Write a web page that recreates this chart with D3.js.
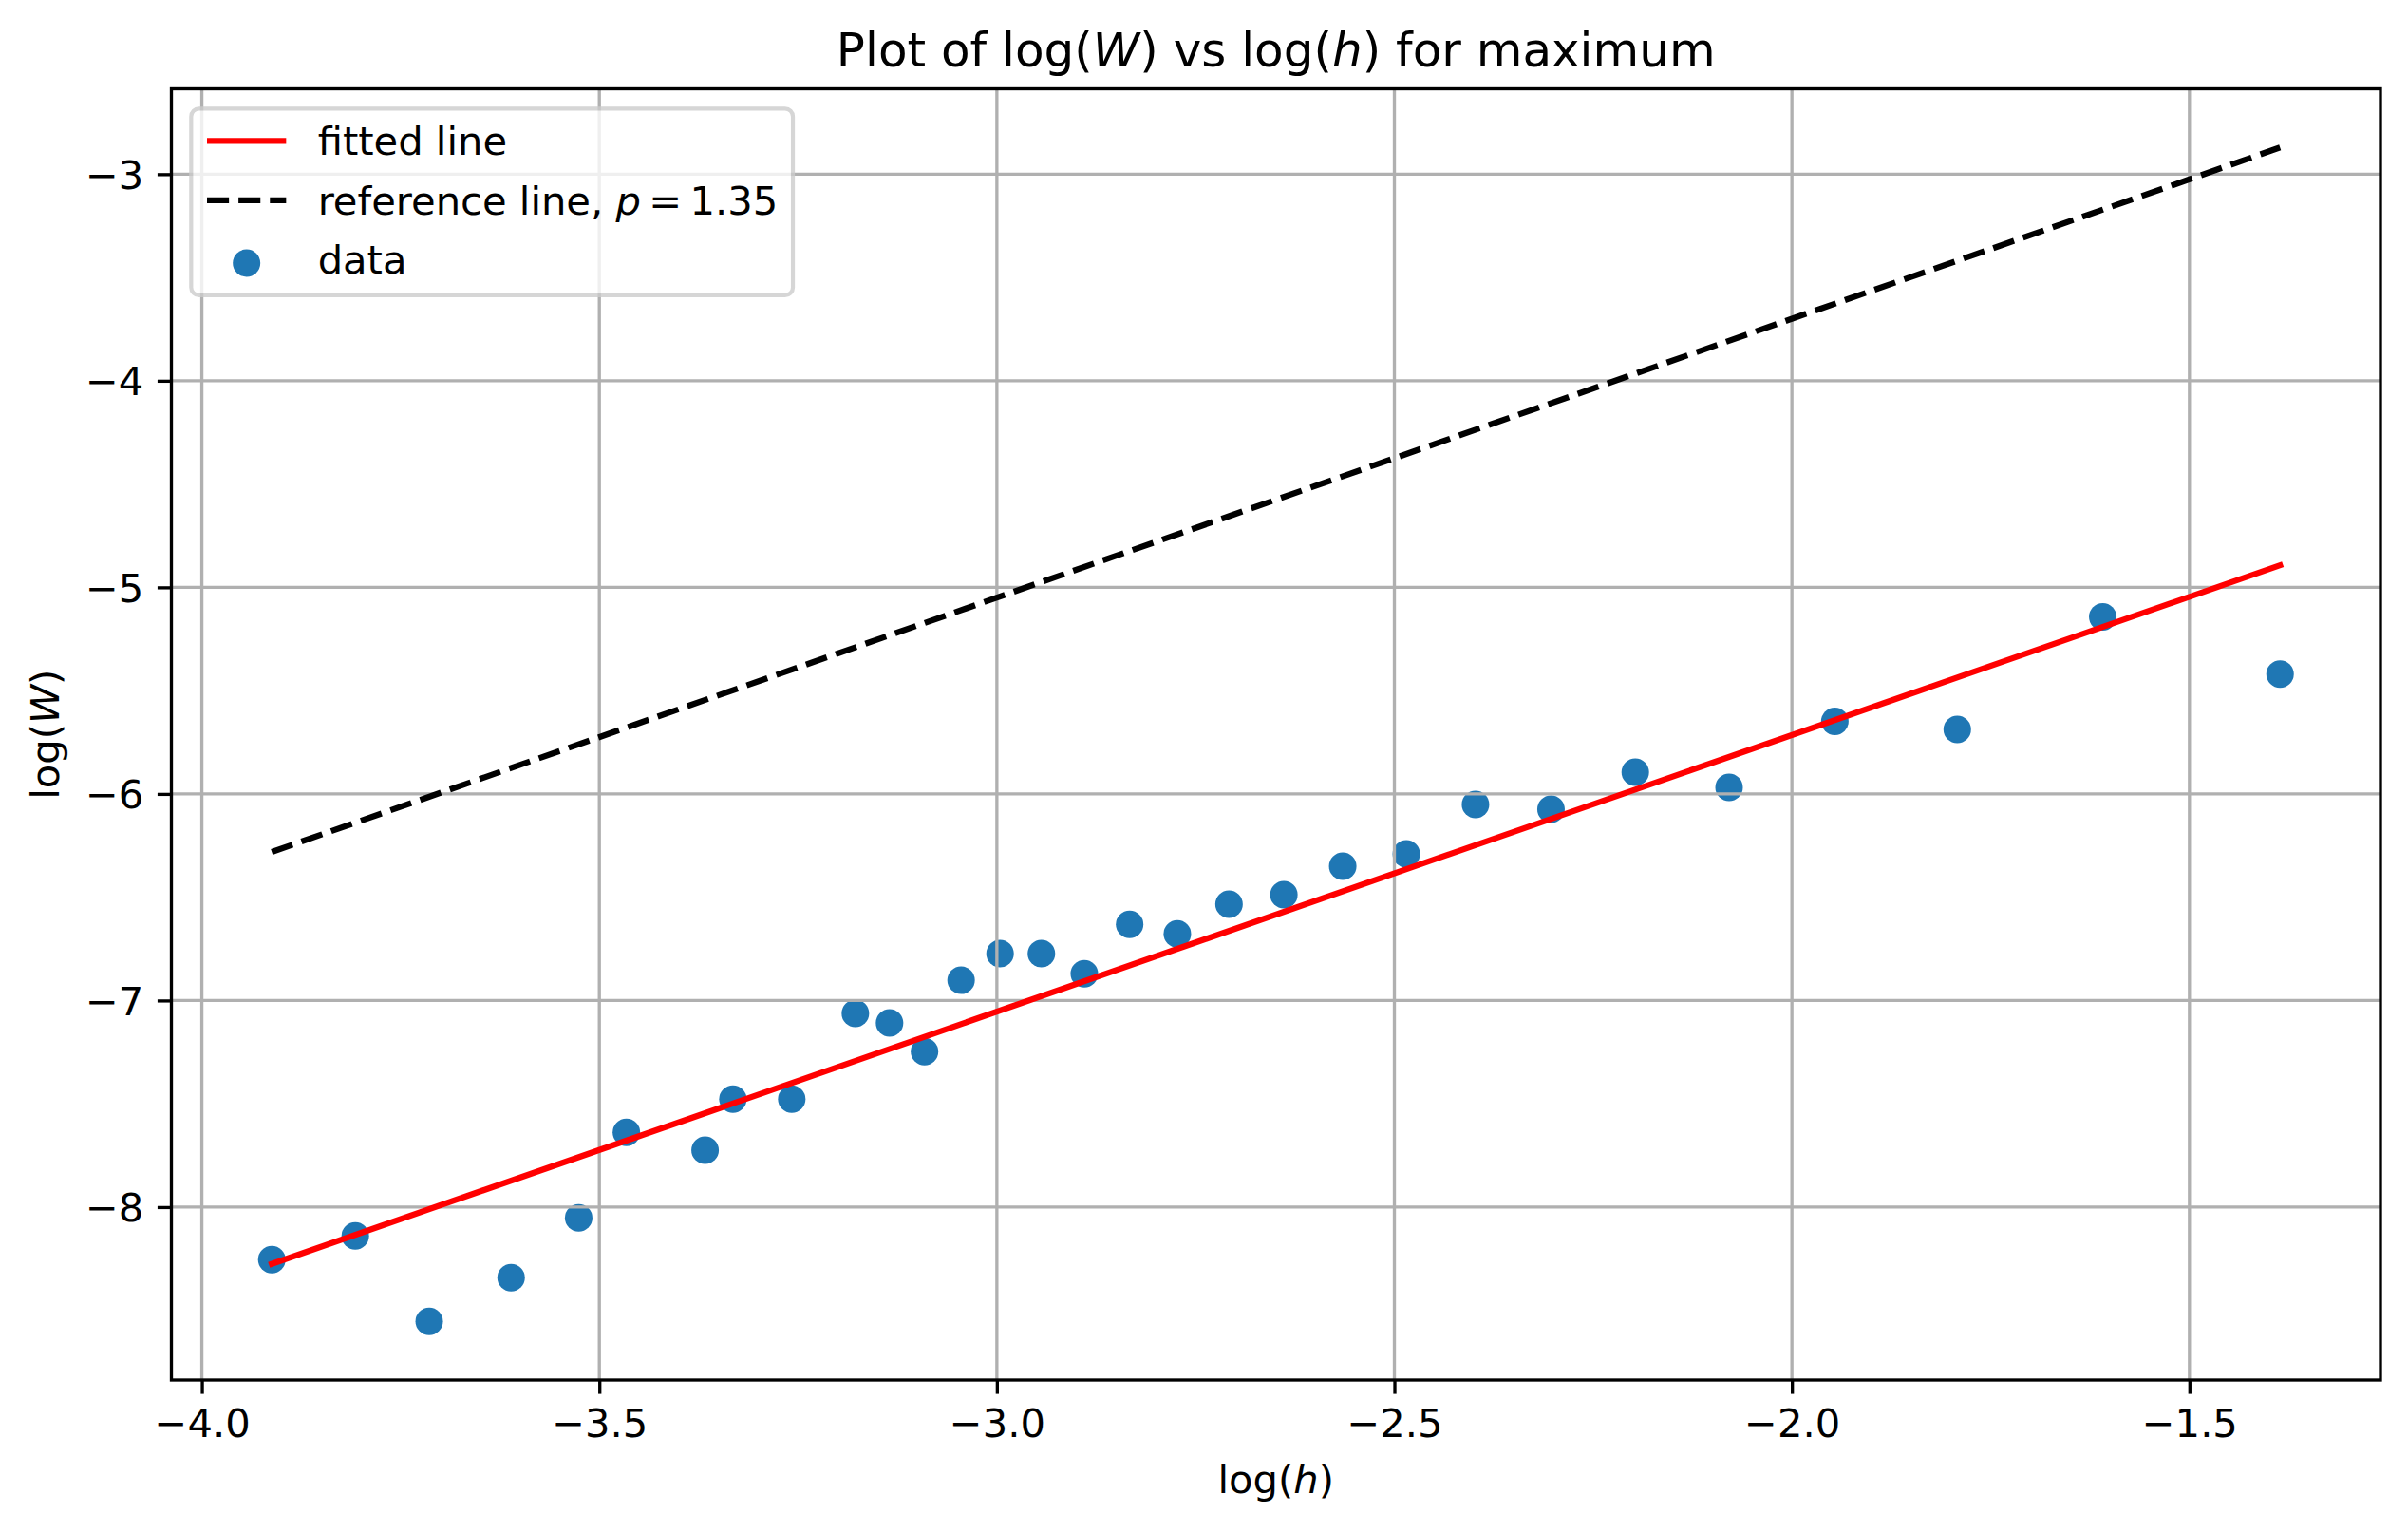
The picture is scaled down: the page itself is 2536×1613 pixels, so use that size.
<!DOCTYPE html>
<html>
<head>
<meta charset="utf-8">
<script src="https://cdn.jsdelivr.net/npm/d3@7"></script>
<style>
  body { margin: 0; background: #fff; }
  svg { display: block; font-family: 'DejaVu Sans', sans-serif; }
</style>
</head>
<body>
<svg id="chart" width="2536" height="1613"></svg>
<script>
// data
var logH = [-3.912, -3.807, -3.714, -3.611, -3.526, -3.466, -3.367, -3.332, -3.258, -3.178,
            -3.135, -3.091, -3.045, -2.996, -2.944, -2.890, -2.833, -2.773, -2.708, -2.639,
            -2.565, -2.485, -2.398, -2.303, -2.197, -2.079, -1.946, -1.792, -1.609, -1.386];
var logW = [-8.254, -8.139, -8.553, -8.342, -8.052, -7.638, -7.725, -7.477, -7.477, -7.063,
            -7.109, -7.247, -6.902, -6.773, -6.773, -6.870, -6.631, -6.677, -6.534, -6.488,
            -6.350, -6.290, -6.051, -6.074, -5.895, -5.968, -5.649, -5.688, -5.143, -5.420];
var fitX = [-3.912, -1.386];
var fitY = [-8.275, -4.893];
var refX = [-3.912, -1.386];
var refY = [-6.281, -2.871];
var xTicks = [-4.0, -3.5, -3.0, -2.5, -2.0, -1.5];
var xTickLabels = ['\u22124.0', '\u22123.5', '\u22123.0', '\u22122.5', '\u22122.0', '\u22121.5'];
var yTicks = [-8, -7, -6, -5, -4, -3];
var yTickLabels = ['\u22128', '\u22127', '\u22126', '\u22125', '\u22124', '\u22123'];

(function () {
  'use strict';

  var pt = 300 / 72,          // figure was saved at 300 dpi
      fontSize = 10 * pt,
      m = {left: 180.5, right: 2507, top: 93.5, bottom: 1453},
      lw = 1.5 * pt;

  var svg = d3.select('#chart');

  // axis limits with matplotlib's 5% margins
  function padded(vals) {
    var ext = d3.extent(vals), d = (ext[1] - ext[0]) * 0.05;
    return [ext[0] - d, ext[1] + d];
  }
  var xs = d3.scaleLinear()
    .domain(padded(logH.concat(fitX, refX)))
    .range([m.left, m.right]);
  var ys = d3.scaleLinear()
    .domain(padded(logW.concat(fitY, refY)))
    .range([m.bottom, m.top]);

  svg.append('defs').append('clipPath').attr('id', 'plotclip')
    .append('rect')
      .attr('x', m.left).attr('y', m.top)
      .attr('width', m.right - m.left).attr('height', m.bottom - m.top);

  var plot = svg.append('g').attr('clip-path', 'url(#plotclip)');

  // scatter first, the grid is drawn over it
  plot.append('g').selectAll('circle')
    .data(logH)
    .enter().append('circle')
      .attr('cx', function (d) { return xs(d); })
      .attr('cy', function (d, i) { return ys(logW[i]); })
      .attr('r', 14.5)
      .attr('fill', '#1f77b4');

  var grid = plot.append('g')
    .attr('stroke', '#b0b0b0')
    .attr('stroke-width', 0.8 * pt);
  grid.selectAll('line.gx').data(xTicks).enter().append('line')
    .attr('class', 'gx')
    .attr('x1', function (d) { return xs(d); })
    .attr('x2', function (d) { return xs(d); })
    .attr('y1', m.top).attr('y2', m.bottom);
  grid.selectAll('line.gy').data(yTicks).enter().append('line')
    .attr('class', 'gy')
    .attr('y1', function (d) { return ys(d); })
    .attr('y2', function (d) { return ys(d); })
    .attr('x1', m.left).attr('x2', m.right);

  var line = d3.line()
    .x(function (d) { return xs(d[0]); })
    .y(function (d) { return ys(d[1]); });

  // fitted line
  plot.append('path')
    .datum(d3.zip(fitX, fitY))
    .attr('d', line)
    .attr('fill', 'none')
    .attr('stroke', '#ff0000')
    .attr('stroke-width', lw)
    .attr('stroke-linecap', 'square');

  // reference line
  plot.append('path')
    .datum(d3.zip(refX, refY))
    .attr('d', line)
    .attr('fill', 'none')
    .attr('stroke', '#000')
    .attr('stroke-width', lw)
    .attr('stroke-dasharray', (3.7 * lw) + ',' + (1.6 * lw));

  // axes
  var xAxis = d3.axisBottom(xs)
    .tickValues(xTicks)
    .tickFormat(function (d, i) { return xTickLabels[i]; })
    .tickSize(3.5 * pt)
    .tickPadding(3.5 * pt)
    .tickSizeOuter(0);
  var yAxis = d3.axisLeft(ys)
    .tickValues(yTicks)
    .tickFormat(function (d, i) { return yTickLabels[i]; })
    .tickSize(3.5 * pt)
    .tickPadding(3.5 * pt)
    .tickSizeOuter(0);

  var gx = svg.append('g')
    .attr('transform', 'translate(0,' + m.bottom + ')')
    .call(xAxis);
  var gy = svg.append('g')
    .attr('transform', 'translate(' + m.left + ',0)')
    .call(yAxis);

  [gx, gy].forEach(function (g) {
    g.select('.domain').remove();
    g.selectAll('.tick line')
      .attr('stroke', '#000')
      .attr('stroke-width', 0.8 * pt);
    g.selectAll('.tick text')
      .attr('fill', '#000')
      .style('font-family', "'DejaVu Sans', sans-serif")
      .style('font-size', fontSize + 'px');
  });
  gx.selectAll('.tick text').attr('dy', '0.75em');
  gy.selectAll('.tick text').attr('dy', '0.36em');

  // spines
  svg.append('rect')
    .attr('x', m.left).attr('y', m.top)
    .attr('width', m.right - m.left).attr('height', m.bottom - m.top)
    .attr('fill', 'none')
    .attr('stroke', '#000')
    .attr('stroke-width', 0.8 * pt)
    .attr('stroke-linejoin', 'miter');

  // text with an italic math symbol in the middle
  function mathText(sel, before, sym, after) {
    sel.append('tspan').text(before);
    sel.append('tspan').style('font-style', 'italic').text(sym);
    sel.append('tspan').text(after);
    return sel;
  }

  var cx = (m.left + m.right) / 2;

  mathText(svg.append('text')
    .attr('x', cx).attr('y', 69.5)
    .attr('text-anchor', 'middle')
    .style('font-size', (12 * pt) + 'px'), 'Plot of log(', 'W', ')')
    .call(function (t) {
      t.append('tspan').text(' vs log(');
      t.append('tspan').style('font-style', 'italic').text('h');
      t.append('tspan').text(') for maximum');
    });

  mathText(svg.append('text')
    .attr('x', cx).attr('y', 1572)
    .attr('text-anchor', 'middle')
    .style('font-size', fontSize + 'px'), 'log(', 'h', ')');

  mathText(svg.append('text')
    .attr('transform', 'translate(62,' + ((m.top + m.bottom) / 2) + ') rotate(-90)')
    .attr('text-anchor', 'middle')
    .style('font-size', fontSize + 'px'), 'log(', 'W', ')');

  // legend
  var pad = 0.5 * fontSize,
      lx = m.left + pad,
      ly = m.top + pad,
      hx0 = lx + 0.4 * fontSize,
      hx1 = hx0 + 2 * fontSize,
      tx = hx1 + 0.8 * fontSize,
      row0 = 148.3,
      rowStep = 62.5;

  var leg = svg.append('g');
  leg.append('rect')
    .attr('x', lx).attr('y', ly)
    .attr('width', 633.7).attr('height', 196.7)
    .attr('rx', 0.2 * fontSize).attr('ry', 0.2 * fontSize)
    .attr('fill', '#fff')
    .attr('stroke', '#cccccc')
    .attr('stroke-width', 1.0 * pt)
    .attr('opacity', 0.8);

  leg.append('line')
    .attr('x1', hx0).attr('x2', hx1)
    .attr('y1', row0).attr('y2', row0)
    .attr('stroke', '#ff0000')
    .attr('stroke-width', lw);
  leg.append('line')
    .attr('x1', hx0).attr('x2', hx1)
    .attr('y1', row0 + rowStep).attr('y2', row0 + rowStep)
    .attr('stroke', '#000')
    .attr('stroke-width', lw)
    .attr('stroke-dasharray', (3.7 * lw) + ',' + (1.6 * lw));
  leg.append('circle')
    .attr('cx', (hx0 + hx1) / 2)
    .attr('cy', row0 + 2 * rowStep + 0.125 * 0.7 * fontSize)
    .attr('r', 14.5)
    .attr('fill', '#1f77b4');

  leg.append('text')
    .attr('x', tx).attr('y', row0).attr('dy', '0.36em')
    .style('font-size', fontSize + 'px')
    .text('fitted line');

  // mathtext "p = 1.35" has tighter spacing round the equals sign
  var refLabel = leg.append('text')
    .attr('x', tx).attr('y', row0 + rowStep).attr('dy', '0.36em')
    .style('font-size', fontSize + 'px');
  refLabel.append('tspan').text('reference line, ');
  refLabel.append('tspan').style('font-style', 'italic').text('p');
  refLabel.append('tspan').attr('dx', 0.2 * fontSize).text('=');
  refLabel.append('tspan').attr('dx', 0.2 * fontSize).text('1.35');

  leg.append('text')
    .attr('x', tx).attr('y', row0 + 2 * rowStep).attr('dy', '0.36em')
    .style('font-size', fontSize + 'px')
    .text('data');
})();
</script>
</body>
</html>
